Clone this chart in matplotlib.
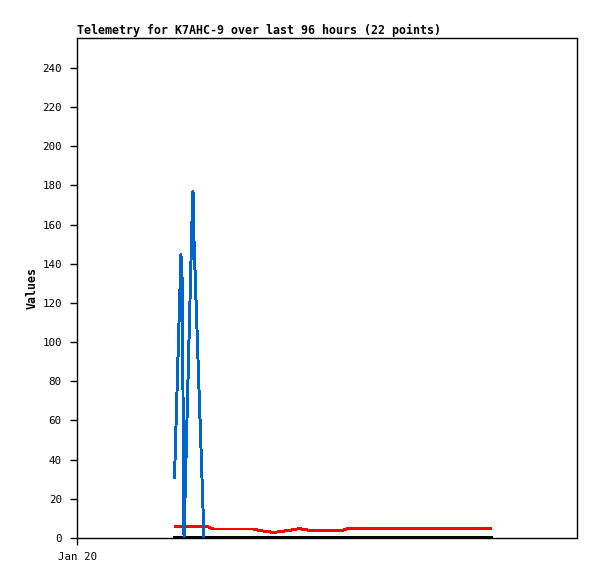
import matplotlib
matplotlib.use("Agg")
import matplotlib.pyplot as plt

plt.rcParams["font.family"] = "DejaVu Sans Mono"

# hours since Jan 20 00:00
blueHours = [19.5, 20.8, 20.94, 21.04, 21.4, 23.06, 23.2, 23.4, 25.4]
blueValues = [31, 145, 120, 133, 0, 168, 177, 152, 0]

redHours = [19.6, 26.0, 26.6, 27.2, 35.2, 36.8, 39.2, 40.6, 41.8, 43.2,
            44.4, 45.8, 47.0, 52.6, 53.4, 54.2, 82.8]
redValues = [5.8, 5.8, 5.3, 4.6, 4.6, 3.7, 2.9, 3.2, 3.7, 4.2,
             4.8, 4.2, 3.7, 3.7, 4.2, 4.8, 4.8]

blackHours = [19.6, 82.8]
blackValues = [0, 0]

yTicks = list(range(0, 241, 20))
xTicks = [0]
xTickLabels = ["Jan 20"]

figure = plt.figure(figsize=(5.97, 5.79), dpi=100)
axis = figure.add_axes([77 / 597, 41 / 579, 500 / 597, 500 / 579])

axis.plot(blackHours, blackValues, color="black", linewidth=1.5, antialiased=False)
axis.plot(redHours, redValues, color="#ff0000", linewidth=1.4, antialiased=False)
axis.plot(blueHours, blueValues, color="#0066cc", linewidth=1.4, antialiased=False)

axis.set_xlim(0, 100)
axis.set_ylim(0, 255.3)
axis.set_yticks(yTicks)
axis.set_xticks(xTicks)
axis.set_xticklabels(xTickLabels)
axis.tick_params(direction="out", length=5, width=1, labelsize=7.8, pad=6)
axis.tick_params(axis="x", pad=5)
for spine in axis.spines.values():
    spine.set_linewidth(1)

axis.set_title("Telemetry for K7AHC-9 over last 96 hours (22 points)",
               loc="left", fontsize=8.4, fontweight="bold", pad=3)
axis.set_ylabel("Values", fontsize=8.4, fontweight="bold")
axis.yaxis.set_label_coords(-0.076, 0.5)

figure.savefig("out.png", dpi=100)
